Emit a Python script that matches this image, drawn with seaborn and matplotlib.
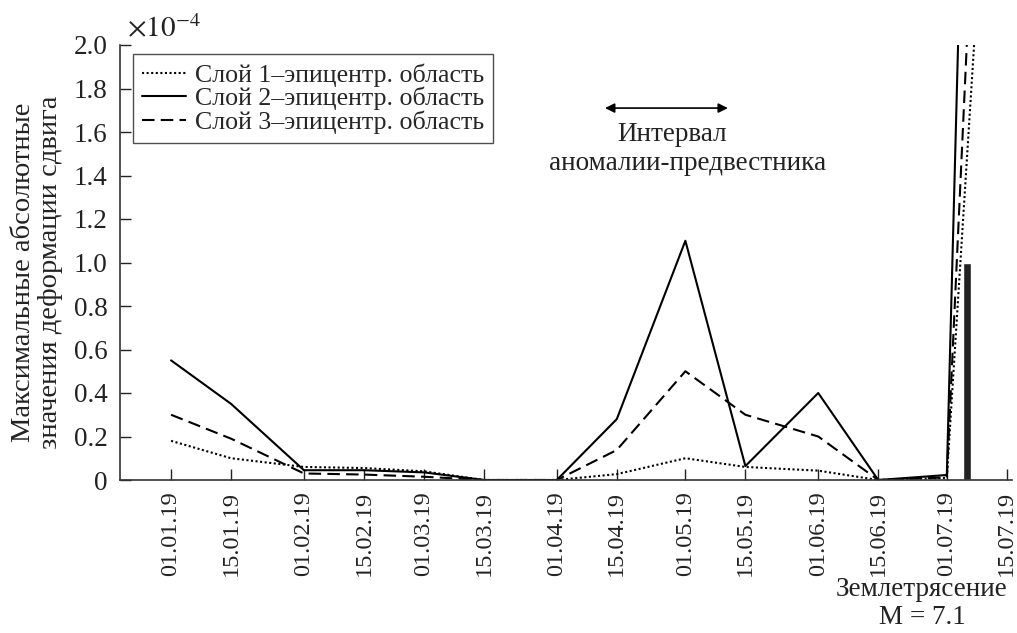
import matplotlib
matplotlib.use("Agg")
import matplotlib.pyplot as plt
import matplotlib.dates as mdates
from matplotlib.ticker import FixedLocator, FuncFormatter
import seaborn as sns
import pandas as pd

# ---- data (values in units of 1e-4) ----
dates = ["2019-01-01", "2019-01-15", "2019-02-01", "2019-02-15", "2019-03-01",
         "2019-03-15", "2019-04-01", "2019-04-15", "2019-05-01", "2019-05-15",
         "2019-06-01", "2019-06-15", "2019-07-01", "2019-07-08"]
layer1 = [0.18, 0.10, 0.06, 0.055, 0.04, 0.0, 0.0, 0.027, 0.10, 0.06, 0.043, 0.0, 0.01, 2.2]
layer2 = [0.55, 0.35, 0.045, 0.045, 0.035, 0.0, 0.0, 0.28, 1.10, 0.064, 0.40, 0.0, 0.023, 5.3]
layer3 = [0.30, 0.19, 0.03, 0.025, 0.015, 0.0, 0.0, 0.138, 0.50, 0.30, 0.20, 0.0, 0.012, 3.0]
names = ["Слой 1–эпицентр. область", "Слой 2–эпицентр. область", "Слой 3–эпицентр. область"]

quake_date = "2019-07-05 18:00"
quake_bar = 1.0
quake_width_days = 2.0

tick_dates = ["2019-01-01", "2019-01-15", "2019-02-01", "2019-02-15", "2019-03-01",
              "2019-03-15", "2019-04-01", "2019-04-15", "2019-05-01", "2019-05-15",
              "2019-06-01", "2019-06-15", "2019-07-01", "2019-07-15"]
y_ticks = [0, 0.2, 0.4, 0.6, 0.8, 1.0, 1.2, 1.4, 1.6, 1.8, 2.0]

# ---- frame ----
rows = []
for name, vals in zip(names, [layer1, layer2, layer3]):
    for d, v in zip(dates, vals):
        rows.append({"date": pd.Timestamp(d), "value": v, "layer": name})
df = pd.DataFrame(rows)

sns.set_style("ticks")
plt.rcParams["font.family"] = ["Liberation Serif", "DejaVu Serif"]
plt.rcParams["mathtext.fontset"] = "stix"

fig = plt.figure(figsize=(10.17, 6.33), dpi=100)
ax = fig.add_axes([120 / 1017, 1 - 480 / 633, 892 / 1017, 435 / 633])

sns.lineplot(data=df, x="date", y="value", style="layer", style_order=names,
             dashes={names[0]: (1, 1.2), names[1]: "", names[2]: (6, 3)},
             color="black", linewidth=1.5, ax=ax, legend=True, estimator=None)

ax.bar(pd.Timestamp(quake_date), quake_bar, width=quake_width_days, color="#222222")

ax.set_ylim(0, 2.0)
ax.set_xlim(pd.Timestamp("2018-12-20 02:00"), pd.Timestamp("2019-07-16 05:00"))

ax.xaxis.set_major_locator(FixedLocator(mdates.date2num(pd.to_datetime(tick_dates))))
ax.xaxis.set_major_formatter(mdates.DateFormatter("%d.%m.%y"))
ax.set_yticks(y_ticks)
ax.yaxis.set_major_formatter(FuncFormatter(lambda v, p: "0" if abs(v) < 1e-9 else f"{v:.1f}"))

for lab in ax.get_xticklabels():
    lab.set_rotation(90)
ax.tick_params(axis="x", direction="in", length=8, width=1.0, labelsize=17.5, pad=8, colors="#222222")
ax.tick_params(axis="y", direction="in", length=8, width=1.0, labelsize=19.5, pad=9, colors="#222222")

sns.despine(ax=ax)
for s in ["left", "bottom"]:
    ax.spines[s].set_color("#333333")
    ax.spines[s].set_linewidth(1.2)

ax.set_xlabel("")
ax.set_ylabel("")

leg = ax.legend(loc="upper left", bbox_to_anchor=(0.0146, 0.979), borderaxespad=0,
                fontsize=18.6, frameon=True, fancybox=False, handlelength=1.7,
                labelspacing=0.0, borderpad=0.35, handletextpad=0.35)
leg.get_frame().set_edgecolor("#222222")
leg.get_frame().set_linewidth(1.0)

ax.text(0.008, 1.037, r"$\times10^{-4}$", transform=ax.transAxes, fontsize=21,
        ha="left", va="center", color="#222222")

fig.text(37 / 1017, 1 - 272 / 633, "Максимальные абсолютные\nзначения деформации сдвига",
         rotation=90, ha="center", va="center", fontsize=20.5, linespacing=1.1, color="#222222")

ax.annotate("", xy=(pd.Timestamp("2019-04-12 06:00"), 1.71),
            xytext=(pd.Timestamp("2019-05-10 22:00"), 1.71),
            arrowprops=dict(arrowstyle="<|-|>", color="black", lw=1.2,
                            mutation_scale=14, shrinkA=0, shrinkB=0))
ax.text(pd.Timestamp("2019-04-28"), 1.59, "Интервал", ha="center", va="center",
        fontsize=19.5, color="#222222")
ax.text(pd.Timestamp("2019-05-01 10:00"), 1.455, "аномалии-предвестника", ha="center",
        va="center", fontsize=19.5, color="#222222")

fig.text(922 / 1017, 1 - 590 / 633, "Землетрясение", ha="center", va="center",
         fontsize=19.5, color="#222222")
fig.text(922 / 1017, 1 - 618 / 633, "M = 7.1", ha="center", va="center",
         fontsize=19.5, color="#222222")

fig.savefig("out.png", dpi=100)
